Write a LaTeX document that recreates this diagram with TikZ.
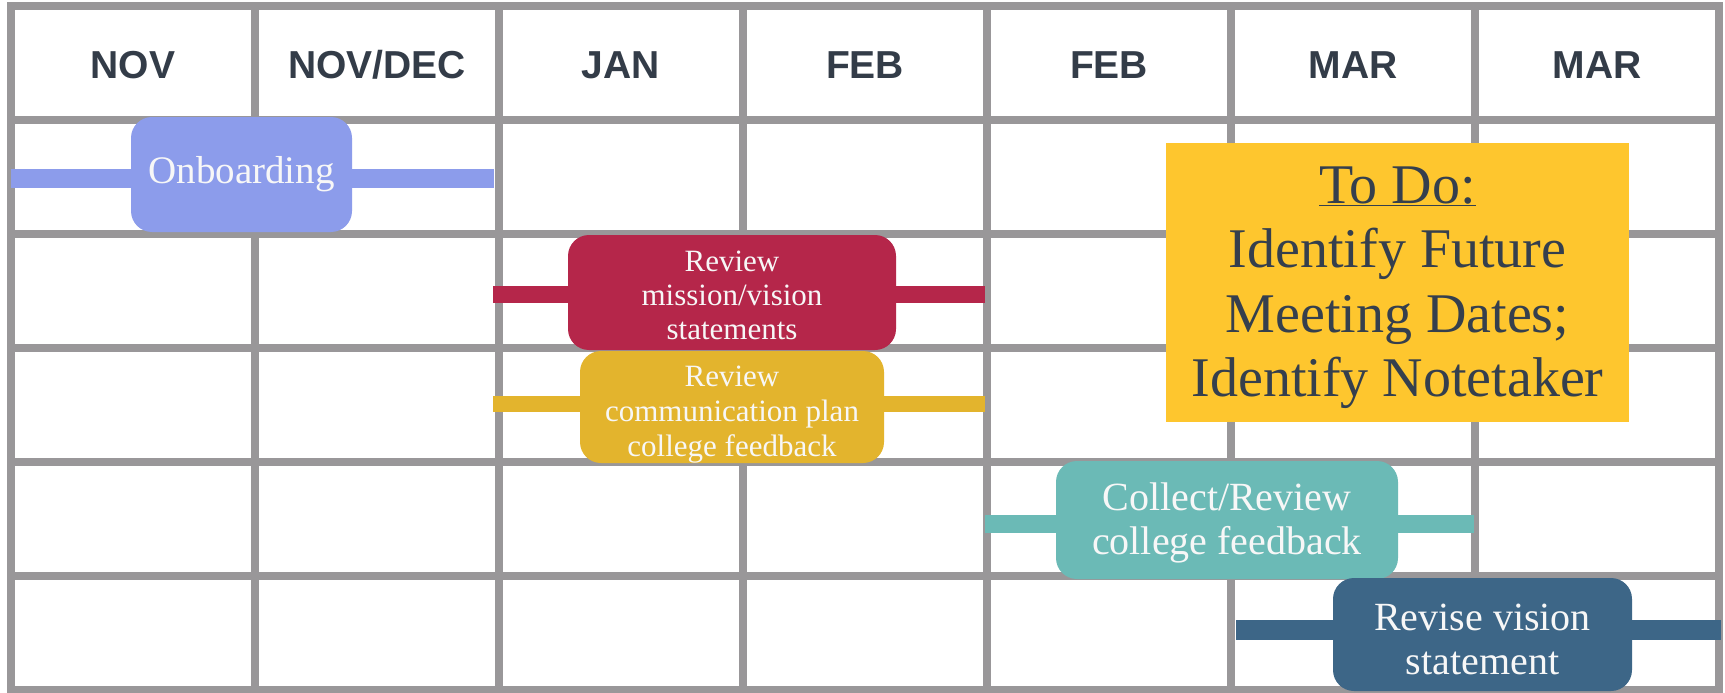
\documentclass[tikz,border=0pt]{standalone}
\usepackage{fontspec}
\setmainfont{Liberation Serif}
\newfontfamily\hdrfont{Liberation Sans}
\definecolor{gridc}{HTML}{999799}
\definecolor{hdrc}{HTML}{333C48}
\definecolor{onbc}{HTML}{8C9CEB}
\definecolor{redc}{HTML}{B5264A}
\definecolor{yelc}{HTML}{E3B42D}
\definecolor{tealc}{HTML}{6BBAB6}
\definecolor{bluec}{HTML}{3D6687}
\definecolor{todoc}{HTML}{FEC62E}
\definecolor{todotext}{HTML}{353F4D}
\definecolor{tasktext}{HTML}{F7F7F7}
\begin{document}
\begin{tikzpicture}[x=1pt,y=-1pt,
  gridline/.style={draw=gridc,line width=7.5pt,line cap=rect},
  hdr/.style={font=\hdrfont\bfseries\fontsize{39}{44}\selectfont,text=hdrc,anchor=base,inner sep=0pt},
  task/.style={rounded corners=21pt,inner sep=0pt},
  tasklabel/.style={text=tasktext,align=center,inner sep=0pt},
  bar/.style={line width=#1,line cap=butt},
  todo/.style={fill=todoc,inner sep=0pt},
  todolabel/.style={text=todotext,align=center,inner sep=0pt,
    font=\fontsize{56}{64.5}\selectfont}
]
\useasboundingbox (0,0) rectangle (1725,693);
\fill[white] (0,0) rectangle (1725,693);
% grid
\foreach \i in {0,...,7} \draw[gridline] ({11+244*\i},6) -- ({11+244*\i},690);
\foreach \j in {0,...,6} \draw[gridline] (11,{6+114*\j}) -- (1719,{6+114*\j});
% headers
\node[hdr] (h1) at (133,79) {NOV};
\node[hdr] (h2) at (377,79) {NOV/DEC};
\node[hdr] (h3) at (621,79) {JAN};
\node[hdr] (h4) at (865,79) {FEB};
\node[hdr] (h5) at (1109,79) {FEB};
\node[hdr] (h6) at (1353,79) {MAR};
\node[hdr] (h7) at (1597,79) {MAR};
% bar end points
\coordinate (obL) at (11,178);   \coordinate (obR) at (494,178);
\coordinate (rdL) at (493,294.5); \coordinate (rdR) at (985,294.5);
\coordinate (ylL) at (493,404);  \coordinate (ylR) at (985,404);
\coordinate (tlL) at (985,524);  \coordinate (tlR) at (1474,524);
\coordinate (blL) at (1236,630); \coordinate (blR) at (1721,630);
% bars
\draw[bar=19pt,draw=onbc] (obL) -- (obR);
\draw[bar=17pt,draw=redc] (rdL) -- (rdR);
\draw[bar=16pt,draw=yelc] (ylL) -- (ylR);
\draw[bar=18pt,draw=tealc] (tlL) -- (tlR);
\draw[bar=20pt,draw=bluec] (blL) -- (blR);
% task boxes
\node[task,fill=onbc,minimum width=221pt,minimum height=115pt] (onb) at (241.5,174.5) {};
\node[task,fill=redc,minimum width=328pt,minimum height=115pt] (rev) at (732,292.5) {};
\node[task,fill=yelc,minimum width=304pt,minimum height=112pt] (com) at (732,407) {};
\node[task,fill=tealc,minimum width=342pt,minimum height=118pt] (col) at (1227,520) {};
\node[task,fill=bluec,minimum width=299pt,minimum height=113pt] (rvs) at (1482.5,634.5) {};
% task texts
\node[tasklabel,font=\fontsize{39}{44}\selectfont] (onbT) at (onb.center) {Onboarding};
\node[tasklabel,font=\fontsize{31}{34}\selectfont] (revT) at ([yshift=-3pt]rev.center) {Review\\mission/vision\\statements};
\node[tasklabel,font=\fontsize{31}{35}\selectfont] (comT) at ([yshift=-8pt]com.center) {Review\\communication plan\\college feedback};
\node[tasklabel,font=\fontsize{40}{44}\selectfont] (colT) at ([yshift=-3pt]col.center) {Collect/Review\\college feedback};
\node[tasklabel,font=\fontsize{40}{44}\selectfont] (rvsT) at ([yshift=-5pt]rvs.center) {Revise vision\\statement};
% to do box
\node[todo,minimum width=463pt,minimum height=279pt] (todo) at (1397.5,282.5) {};
\node[todolabel] (todoT) at ([yshift=-5pt]todo.center)
  {\underline{To Do:}\\Identify Future\\Meeting Dates;\\Identify Notetaker};
\end{tikzpicture}
\end{document}
